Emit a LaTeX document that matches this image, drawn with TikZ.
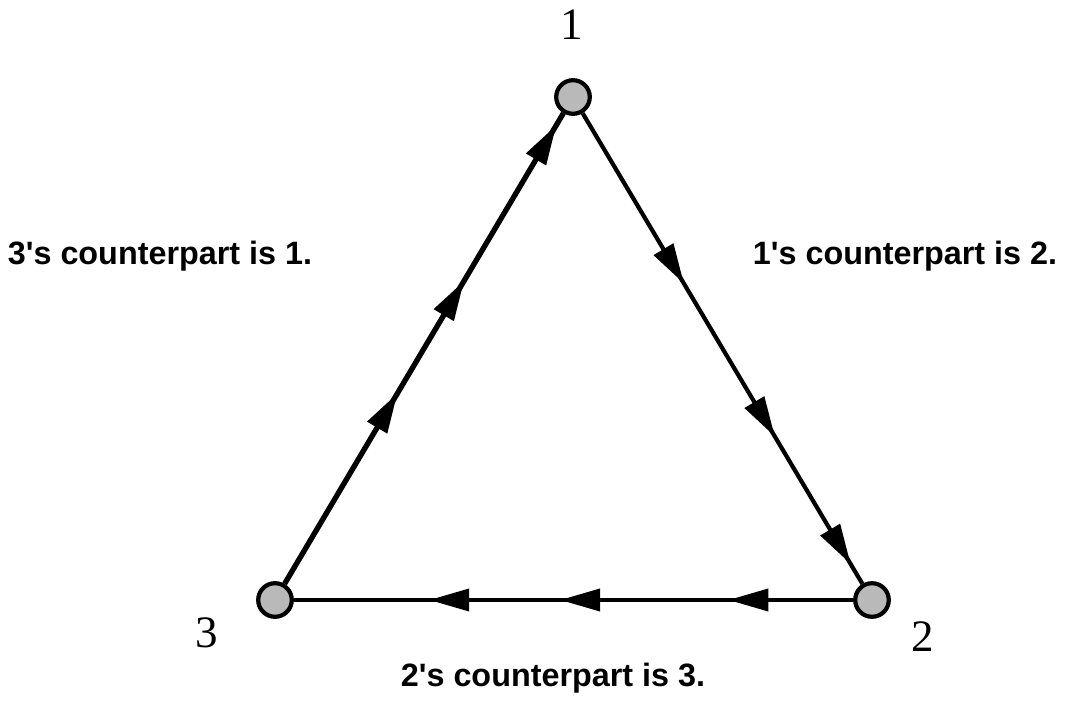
\documentclass[tikz,border=0pt]{standalone}
\usepackage{fontspec}
\setmainfont{Liberation Serif}
\setsansfont{Liberation Sans}
\usetikzlibrary{arrows.meta,decorations.markings}

\tikzset{
    vertex/.style={circle, draw, line width=3pt, fill=gray!55, minimum size=0.84cm, inner sep=0pt},
    digit/.style={inner sep=0pt, font=\fontsize{32}{36}\selectfont},
    caption/.style={anchor=base, inner sep=0pt, font=\sffamily\bfseries\fontsize{23}{27}\selectfont},
    flow/.style n args={3}{line width=3pt, postaction={decorate},
        decoration={markings,
            mark=at position #1 with {\arrow{Triangle[length=1cm,width=0.55cm]}},
            mark=at position #2 with {\arrow{Triangle[length=1cm,width=0.55cm]}},
            mark=at position #3 with {\arrow{Triangle[length=1cm,width=0.55cm]}}}}
}

\begin{document}
\begin{tikzpicture}
    \useasboundingbox (0,0) rectangle (26.7,17.55);

    % the three members
    \node[vertex] (n1) at (14.325,15.125) {};
    \node[vertex] (n2) at (21.8,2.55) {};
    \node[vertex] (n3) at (6.875,2.55) {};

    \node[digit] (d1) at (14.3,16.925) {1};
    \node[digit] (d2) at (23.075,1.625) {2};
    \node[digit] (d3) at (5.175,1.725) {3};

    % who points to whom
    \draw[flow={0.405}{0.644}{0.975}, line width=3.8pt] (n3) -- (n1);
    \draw[flow={0.362}{0.687}{0.958}] (n1) -- (n2);
    \draw[flow={0.223}{0.524}{0.758}, line width=2.7pt] (n2) -- (n3);

    \node[caption] (c31) at (4.0,10.925) {3\textquotesingle s counterpart is 1.};
    \node[caption] (c12) at (22.625,10.925) {1\textquotesingle s counterpart is 2.};
    \node[caption] (c23) at (13.825,0.375) {2\textquotesingle s counterpart is 3.};
\end{tikzpicture}
\end{document}
